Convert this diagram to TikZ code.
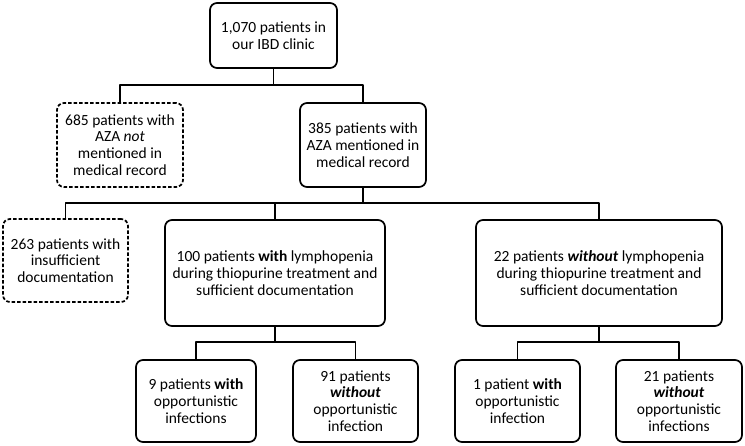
\documentclass[tikz,border=0pt]{standalone}
\usepackage{fontspec}
\setmainfont{Carlito}
\begin{document}
\begin{tikzpicture}[x = 1pt, y = 1pt, line width = 1.7pt, line join = round,
	font = \fontsize{15.5}{16.8}\selectfont,
	box/.style = {draw, rounded corners = 7pt, align = center, inner sep = 2pt},
	dashbox/.style = {box, dash pattern = on 3.5pt off 2pt}]
	\useasboundingbox (0,0) rectangle (745,-446);
	\def\ya{-85}   % first branch level
	\def\yb{-203}  % second branch level
	\def\yc{-342}  % third branch level
	% first row
	\node[box, minimum width = 127, minimum height = 65] (clinic) at (273.5,-35.5)
	{1,070 patients in\\ our IBD clinic};
	% second row
	\node[dashbox, minimum width = 126, minimum height = 84] (notaza) at (120,-145)
	{685 patients with\\ AZA \emph{not}\\ mentioned in\\ medical record};
	\node[box, minimum width = 126, minimum height = 84] (aza) at (363,-145)
	{385 patients with\\ AZA mentioned in\\ medical record};
	% third row
	\node[dashbox, minimum width = 125, minimum height = 83] (insuff) at (65.5,-260.5)
	{263 patients with\\ insufficient\\ documentation};
	\node[box, minimum width = 220, minimum height = 106] (lympho) at (275,-273)
	{100 patients \textbf{with} lymphopenia\\ during thiopurine treatment and\\ sufficient documentation};
	\node[box, minimum width = 246, minimum height = 106] (nolympho) at (599,-273)
	{22 patients \textbf{\emph{without}} lymphopenia\\ during thiopurine treatment and\\ sufficient documentation};
	% fourth row
	\node[box, minimum width = 120, minimum height = 82] (lyinf) at (196,-401)
	{9 patients \textbf{with}\\ opportunistic\\ infections};
	\node[box, minimum width = 125, minimum height = 82] (lynoinf) at (355.5,-401)
	{91 patients\\ \textbf{\emph{without}}\\ opportunistic\\ infection};
	\node[box, minimum width = 125, minimum height = 82] (nlinf) at (517.5,-401)
	{1 patient \textbf{with}\\ opportunistic\\ infection};
	\node[box, minimum width = 126, minimum height = 82] (nlnoinf) at (679,-401)
	{21 patients\\ \textbf{\emph{without}}\\ opportunistic\\ infections};
	% branch points
	\path
	(clinic |- 0,\ya) coordinate (ja)
	(aza |- 0,\yb) coordinate (jb)
	(lympho |- 0,\yc) coordinate (jc)
	(nolympho |- 0,\yc) coordinate (jd)
	;
	\draw
	(clinic) -- (ja)
	(notaza) |- (ja) -| (aza)
	(aza) -- (jb)
	(insuff) |- (jb) -| (nolympho)
	(lympho) -- (lympho |- jb)
	(lympho) -- (jc)
	(lyinf) |- (jc) -| (lynoinf)
	(nolympho) -- (jd)
	(nlinf) |- (jd) -| (nlnoinf)
	;
\end{tikzpicture}
\end{document}
